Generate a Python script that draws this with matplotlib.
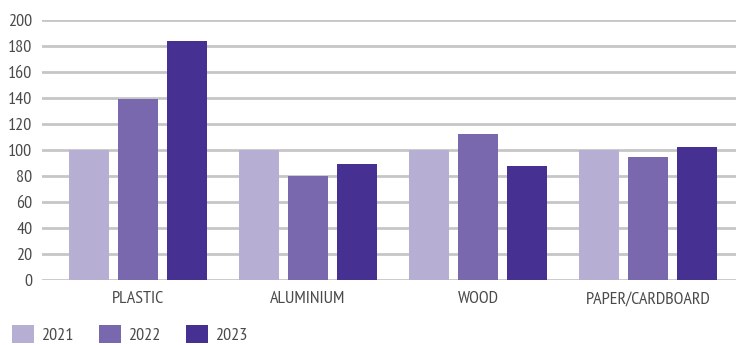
import numpy as np
import matplotlib
matplotlib.use("Agg")
import matplotlib.pyplot as plt
from matplotlib.patches import Patch

categories = ["PLASTIC", "ALUMINIUM", "WOOD", "PAPER/CARDBOARD"]
years = ["2021", "2022", "2023"]
v2021 = [100, 100, 100, 100]
v2022 = [139, 80, 112, 95]
v2023 = [184, 89, 88, 102]

colours = ["#b7aed4", "#7a68ae", "#463092"]
text_col = "#4a4a4a"
grid_col = "#c6c6c6"

plt.rcParams["font.family"] = ["PT Sans Narrow", "DejaVu Sans"]

fig = plt.figure(figsize=(7.36, 3.45), dpi=100)
ax = fig.add_axes([42 / 736, 65 / 345, 694 / 736, 260 / 345])

x = np.arange(len(categories))
width = 0.235
offsets = [-0.29, 0.0, 0.29]
for vals, off, c, yr in zip([v2021, v2022, v2023], offsets, colours, years):
    ax.bar(x + off, vals, width, color=c, label=yr, zorder=3)

ax.set_xlim(-0.565, 3.518)
ax.set_ylim(0, 200)
ax.set_yticks(range(0, 201, 20))
ax.yaxis.grid(True, color=grid_col, linewidth=2, zorder=0)
ax.set_axisbelow(True)
for s in ax.spines.values():
    s.set_visible(False)
ax.set_xticks(x)
ax.set_xticklabels(categories)
ax.tick_params(axis="both", length=0, labelsize=13, colors=text_col)
ax.tick_params(axis="y", pad=7)
ax.tick_params(axis="x", pad=8)

# legend row along the bottom edge
handles = [Patch(facecolor=c, edgecolor="none") for c in colours]
fig.legend(handles, years, loc="lower left", bbox_to_anchor=(12 / 736, 1 / 345),
           ncol=3, frameon=False, fontsize=13, labelcolor=text_col,
           borderpad=0, borderaxespad=0,
           handlelength=1.22, handleheight=1.22, handletextpad=0.4,
           columnspacing=1.4)

fig.savefig("out.png", dpi=100)
